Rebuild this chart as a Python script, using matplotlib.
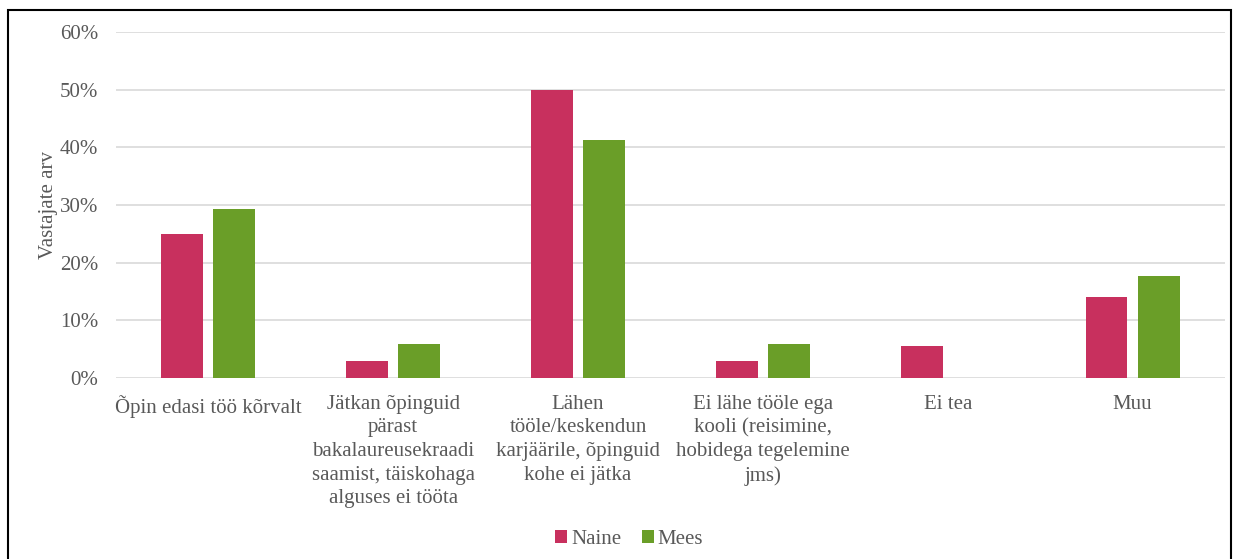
import matplotlib
matplotlib.use("Agg")
import matplotlib.pyplot as plt
import numpy as np
from matplotlib.patches import Rectangle
from matplotlib.ticker import PercentFormatter

# data
categories = [
    "Õpin edasi töö kõrvalt",
    "Jätkan õpinguid\npärast\nbakalaureusekraadi\nsaamist, täiskohaga\nalguses ei tööta",
    "Lähen\ntööle/keskendun\nkarjäärile, õpinguid\nkohe ei jätka",
    "Ei lähe tööle ega\nkooli (reisimine,\nhobidega tegelemine\njms)",
    "Ei tea",
    "Muu",
]
naine = [25.0, 2.9, 50.0, 2.9, 5.5, 14.0]
mees = [29.3, 5.9, 41.2, 5.9, 0.0, 17.7]

c_naine = "#C8305E"
c_mees = "#6A9E28"
txt = "#595959"
fs = 15

plt.rcParams['font.family'] = ['Liberation Serif', 'DejaVu Serif']

fig = plt.figure(figsize=(12.34, 5.59), dpi=100)
ax = fig.add_axes([0.094, 0.3238, 0.8987, 0.619])

x = np.arange(len(categories))
w = 0.227
off = 0.141
ax.bar(x - off, naine, w, color=c_naine, label="Naine", zorder=3)
ax.bar(x + off, mees, w, color=c_mees, label="Mees", zorder=3)

ax.set_xlim(-0.5, len(categories) - 0.5)
ax.set_ylim(0, 60)
ax.set_yticks(np.arange(0, 61, 10))
ax.yaxis.set_major_formatter(PercentFormatter(decimals=0))
ax.grid(axis='y', color='#D9D9D9', linewidth=1.2, zorder=0)
for s in ax.spines.values():
    s.set_visible(False)
ax.tick_params(axis='both', length=0, colors=txt, labelsize=fs)
ax.tick_params(axis='y', pad=13)
ax.set_xticks(x)
ax.set_xticklabels(categories, linespacing=1.33, va='top')
ax.tick_params(axis='x', pad=12)
ax.set_ylabel("Vastajate arv", color=txt, fontsize=fs, labelpad=1)

leg = fig.legend(loc='center', bbox_to_anchor=(0.51, 0.035), ncol=2, frameon=False,
                 fontsize=fs, handlelength=0.55, handleheight=0.55, handletextpad=0.2,
                 columnspacing=1.0)
for t in leg.get_texts():
    t.set_color(txt)

# outer frame
fig.patches.append(Rectangle((8 / 1234, -0.1), 1223 / 1234, 1.1 - 10 / 559,
                             transform=fig.transFigure, fill=False,
                             edgecolor='black', linewidth=1.5))

fig.savefig("out.png", dpi=100)
